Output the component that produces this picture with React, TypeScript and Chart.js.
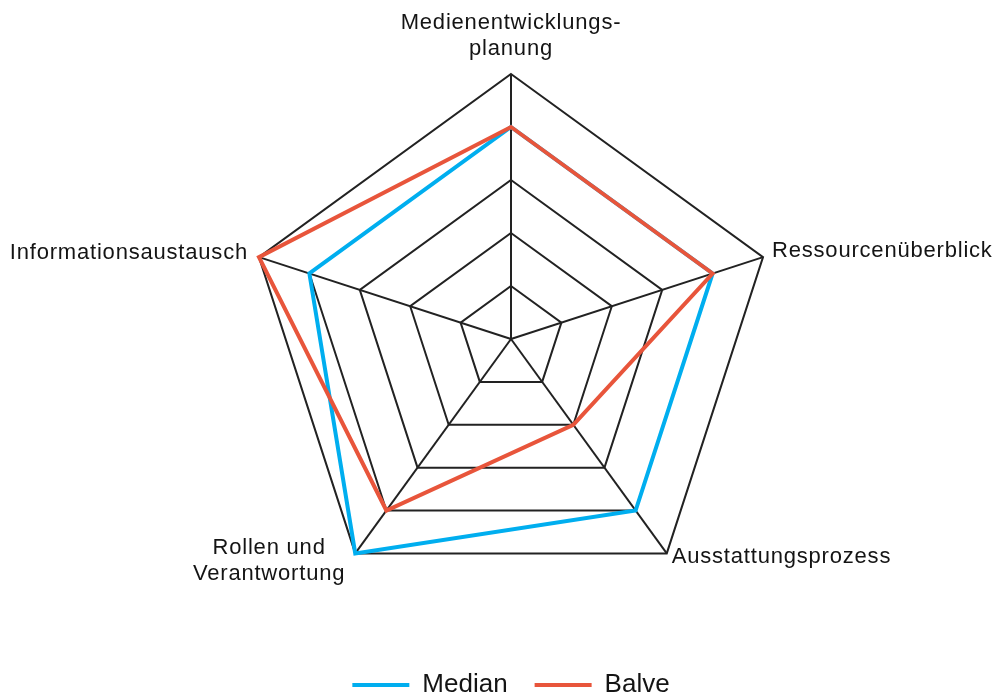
import React, { useEffect, useRef } from "react";
import { Chart, registerables } from "chart.js";

Chart.register(...registerables);

const categories: (string | string[])[] = [
  ["Medienentwicklungs-", "planung"],
  "Ressourcenüberblick",
  "Ausstattungsprozess",
  ["Rollen und", "Verantwortung"],
  "Informationsaustausch",
];
const medianValues = [4, 4, 4, 5, 4];
const balveValues = [4, 4, 2, 4, 5];
const seriesNames = ["Median", "Balve"];

const BLUE = "#00AEEF";
const RED = "#E8553B";
const GRID = "#222222";
const TEXT = "#141414";
const FONT = "'Liberation Sans', Arial, sans-serif";

// per-label placement relative to axis end vertex: [dx, dy(baseline of first line), align]
const labelPlacement: [number, number, "center" | "left" | "right"][] = [
  [0, -45, "center"],
  [9, 0, "left"],
  [5, 10, "left"],
  [-10, 1, "right"],
  [-11, 2, "right"],
];

const pointLabelPlugin = {
  id: "customPointLabels",
  afterDraw(chart: any) {
    const scale = chart.scales.r;
    const ctx = chart.ctx;
    ctx.save();
    ctx.font = `22px ${FONT}`;
    (ctx as any).letterSpacing = "0.8px";
    ctx.fillStyle = TEXT;
    ctx.textBaseline = "alphabetic";
    const lineH = 26;
    (chart.data.labels as (string | string[])[]).forEach((lab, i) => {
      const lines = Array.isArray(lab) ? lab : [lab];
      const p = scale.getPointPosition(i, scale.drawingArea);
      const [dx, dy, align] = labelPlacement[i];
      const widths = lines.map((l) => ctx.measureText(l).width);
      const blockW = Math.max(...widths);
      let cx: number;
      if (align === "center") cx = p.x + dx;
      else if (align === "left") cx = p.x + dx + blockW / 2;
      else cx = p.x + dx - blockW / 2;
      ctx.textAlign = "center";
      lines.forEach((l, k) => {
        ctx.fillText(l, cx, p.y + dy + k * lineH);
      });
    });
    ctx.restore();
  },
};

export default function App() {
  const ref = useRef<HTMLCanvasElement | null>(null);
  useEffect(() => {
    if (!ref.current) return;
    const chart = new Chart(ref.current, {
      type: "radar",
      data: {
        labels: categories,
        datasets: [
          {
            label: seriesNames[0],
            data: medianValues,
            borderColor: BLUE,
            backgroundColor: BLUE,
            borderWidth: 4,
            fill: false,
            pointRadius: 0,
            pointHoverRadius: 0,
            order: 1,
          },
          {
            label: seriesNames[1],
            data: balveValues,
            borderColor: RED,
            backgroundColor: RED,
            borderWidth: 4,
            fill: false,
            pointRadius: 0,
            pointHoverRadius: 0,
            order: 0,
          },
        ],
      },
      options: {
        animation: false,
        responsive: false,
        maintainAspectRatio: false,
        elements: { line: { tension: 0, borderJoinStyle: "miter" } },
        layout: { padding: { top: 33, bottom: -11, left: 246, right: 222 } },
        scales: {
          r: {
            min: 0,
            max: 5,
            beginAtZero: true,
            ticks: { display: false, stepSize: 1 },
            grid: { color: GRID, lineWidth: 2, circular: false },
            angleLines: { display: true, color: GRID, lineWidth: 2 },
            pointLabels: { display: false },
          },
        },
        plugins: {
          tooltip: { enabled: false },
          legend: {
            display: true,
            position: "bottom",
            labels: {
              usePointStyle: true,
              pointStyle: "line",
              pointStyleWidth: 57,
              boxHeight: 4,
              padding: 27,
              color: TEXT,
              font: { size: 26, family: FONT },
              sort: (a: any, b: any) => a.datasetIndex - b.datasetIndex,
            },
          },
        },
      },
      plugins: [pointLabelPlugin],
    });
    return () => chart.destroy();
  }, []);
  return (
    <div style={{ position: "fixed", left: 0, top: 0, width: 998, height: 697, background: "#fff" }}>
      <canvas ref={ref} width={998} height={697} style={{ display: "block" }} />
    </div>
  );
}
